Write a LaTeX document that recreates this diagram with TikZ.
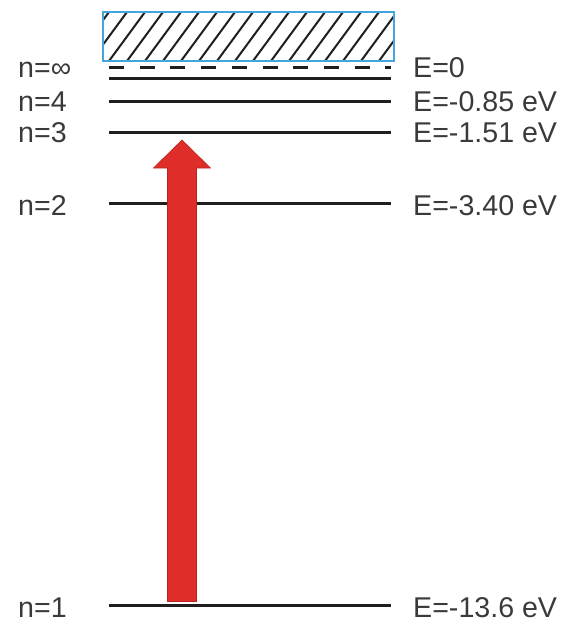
\documentclass[tikz,border=0pt]{standalone}
\usepackage{fontspec}
\setmainfont{Liberation Sans}
\definecolor{txt}{HTML}{3A3A3A}
\definecolor{hatchblue}{HTML}{45A6DD}
\definecolor{arrred}{HTML}{DF2E29}
\definecolor{arredge}{HTML}{B82420}
\begin{document}
\begin{tikzpicture}[x=1pt,y=-1pt,
  lbl/.style={font=\fontsize{28.6}{30}\selectfont, text=txt, inner sep=0pt},
  level/.style={line width=3pt, black!88},
  hatchln/.style={line width=2pt, black!88}]
\useasboundingbox (0,0) rectangle (567,629);
% continuum box
\coordinate (bl) at (103,61);
\coordinate (tr) at (394,12);
\begin{scope}
  \clip (bl) rectangle (tr);
  \foreach \i in {0,...,19} {
    \draw[hatchln] (103+18*\i-30,61) -- ++(36,-49);
  }
\end{scope}
\draw[hatchblue, line width=1.4pt] (bl) rectangle (tr);
% levels
\coordinate (infL) at (109,67); \coordinate (infR) at (391,67);
\coordinate (cL) at (109,78); \coordinate (cR) at (391,78);
\coordinate (l4L) at (109,101); \coordinate (l4R) at (391,101);
\coordinate (l3L) at (109,132); \coordinate (l3R) at (391,132);
\coordinate (l2L) at (109,203); \coordinate (l2R) at (391,203);
\coordinate (l1L) at (109,605); \coordinate (l1R) at (391,605);
\draw[level, dash pattern=on 15pt off 15.7pt] (infL) -- (infR);
\draw[level] (cL) -- (cR);
\draw[level] (l4L) -- (l4R);
\draw[level] (l3L) -- (l3R);
\draw[level] (l2L) -- (l2R);
\draw[level] (l1L) -- (l1R);
% labels
\node[lbl, anchor=base west] (ninf) at (18,77) {n=∞};
\node[lbl, anchor=base west] (n4) at (18,111) {n=4};
\node[lbl, anchor=base west] (n3) at (18,142) {n=3};
\node[lbl, anchor=base west] (n2) at (18,215) {n=2};
\node[lbl, anchor=base west] (n1) at (18,617) {n=1};
\node[lbl, anchor=base west] (e0) at (413,77) {E=0};
\node[lbl, anchor=base west] (e4) at (413,111) {E=-0.85 eV};
\node[lbl, anchor=base west] (e3) at (413,142) {E=-1.51 eV};
\node[lbl, anchor=base west] (e2) at (413,215) {E=-3.40 eV};
\node[lbl, anchor=base west] (e1) at (413,617) {E=-13.6 eV};
% excitation arrow
\coordinate (abot) at (182,601.5);
\coordinate (atip) at (182,140);
\fill[arrred, draw=arredge, line width=0.6pt, line join=miter]
  ([xshift=-14.5pt]abot) -- ([xshift=-14.5pt]abot |- 0,168) -- (153.5,168) -- (atip)
  -- (210.5,168) -- ([xshift=14.5pt]abot |- 0,168) -- ([xshift=14.5pt]abot) -- cycle;
\end{tikzpicture}
\end{document}
